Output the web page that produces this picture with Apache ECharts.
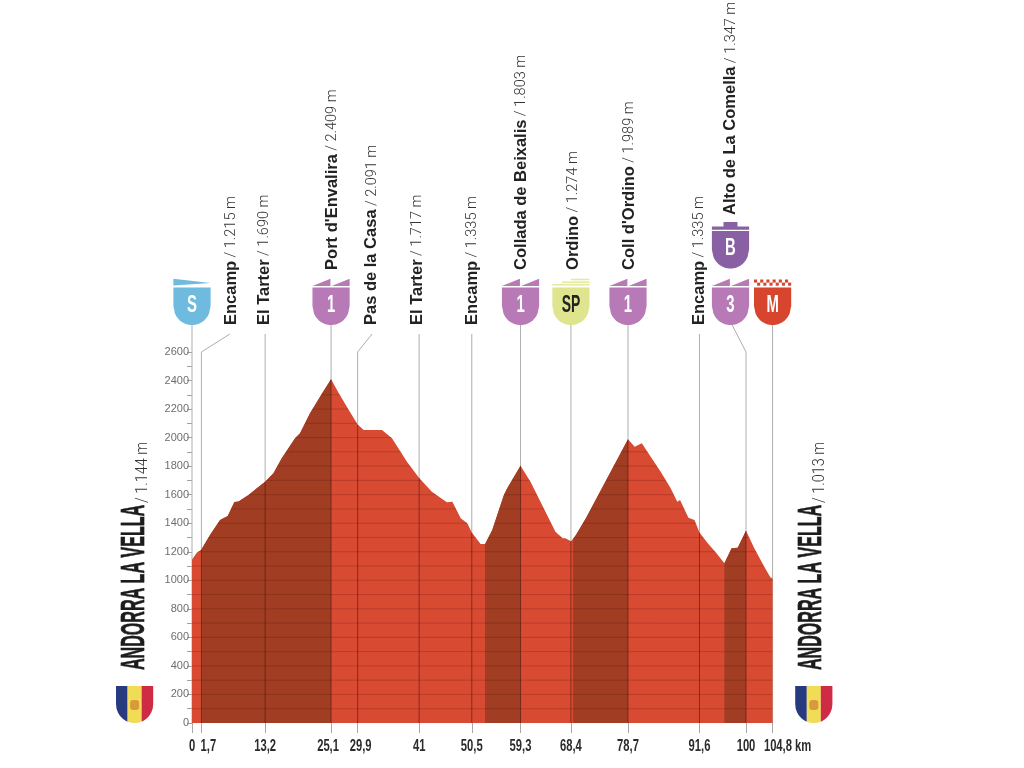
<!DOCTYPE html>
<html><head><meta charset="utf-8">
<style>html,body{margin:0;padding:0;background:#fff}#c{width:1024px;height:768px}</style>
<script src="https://cdn.jsdelivr.net/npm/echarts@6/dist/echarts.min.js"></script>
</head><body><div id="c"></div>
<script>
// ---- data ----
const profile = [[0,1144],[0.85,1193],[1.7,1215],[3.25,1317],[5.06,1423],[6.45,1450],[7.65,1549],[8.4,1553],[10.2,1597],[11.7,1645],[13.2,1690],[14.7,1750],[16.2,1855],[18.6,1995],[19.5,2030],[21.3,2170],[23.5,2310],[25.1,2409],[26.5,2310],[28.3,2193],[29.9,2091],[31,2053],[34.3,2053],[36.1,1995],[38.8,1831],[41,1717],[43.3,1621],[46,1547],[47,1551],[48.5,1434],[49.7,1399],[50.5,1335],[52.1,1254],[52.9,1254],[54.2,1352],[56.3,1598],[56.9,1645],[59.3,1803],[61.1,1691],[62.9,1551],[65.6,1341],[66.9,1294],[67.4,1294],[68.4,1274],[68.8,1291],[69.3,1317],[71.1,1434],[78.7,1989],[79.9,1936],[81.2,1960],[82.8,1866],[84.6,1761],[86.4,1645],[87.6,1551],[88.1,1563],[89.6,1439],[90.7,1423],[91.6,1335],[93.1,1259],[94.6,1193],[96.1,1119],[96.4,1130],[97.4,1224],[98.5,1228],[100,1347],[101.5,1224],[103.3,1095],[104.4,1021],[104.8,1013]];
const climbRanges = [[1.7,25.1],[52.9,59.3],[68.8,78.7],[96.1,100]];
const kmTicks = [0,1.7,13.2,25.1,29.9,41,50.5,59.3,68.4,78.7,91.6,100,104.8];
const kmLabels = ['0','1,7','13,2','25,1','29,9','41','50,5','59,3','68,4','78,7','91,6','100','104,8 km'];
const elevLabels = [0,200,400,600,800,1000,1200,1400,1600,1800,2000,2200,2400,2600];
const elevMinor = [0,100,200,300,400,500,600,700,800,900,1000,1100,1200,1300,1400,1500,1600,1700,1800,1900,2000,2100,2200,2300,2400,2500,2600];
const placeNames = ['Encamp','El Tarter',"Port d'Envalira",'Pas de la Casa','El Tarter','Encamp','Collada de Beixalis','Ordino',"Coll d'Ordino",'Encamp','Alto de La Comella'];
const placeHeights = ['1.215','1.690','2.409','2.091','1.717','1.335','1.803','1.274','1.989','1.335','1.347'];
const placeKm = [1.7,13.2,25.1,29.9,41,50.5,59.3,68.4,78.7,91.6,100];
const placeElev = [1215,1690,2409,2091,1717,1335,1803,1274,1989,1335,1347];
const badgeKinds = ['S','1','1','SP','1','3','B','M'];
const startName = 'ANDORRA LA VELLA', startHeight = '/ 1.144 m';
const finishName = 'ANDORRA LA VELLA', finishHeight = '/ 1.013 m';

// ---- layout ----
const yMax = 2800, gridBottom = 723, gridHeight = 0.1427 * yMax;
const LINE_TOP = 2726, PIN_TOP = 2789, BEND = 2600;
const labelKmAt = [6.85,12.85,25.05,32.2,40.4,50.4,59.25,68.65,78.7,91.4,97];
const labelFoot = [2789,2789,3175,2789,2789,2789,3175,3175,3175,2789,3560];
const leaderTop = {0:[6.85,LINE_TOP],3:[32.5,LINE_TOP],10:[97.5,PIN_TOP]};
const pinned = {2:1,6:1,7:1,8:1};
const badgeKm = [0,25.1,59.3,68.4,78.7,97.2,97.2,104.8];
const badgeTip = [2789,2789,2789,2789,2789,2789,3185,2789];
const tickDx = [0,7,0,-3,3,0,0,0,0,0,0,0,15];
const COLORS = {S:'#6fbbdf','1':'#b87ab6','3':'#b87ab6',SP:'#dfe58e',B:'#8a60a4',M:'#d8452e'};

// ---- derived series ----
function breakJoin(parts){ const out=[]; parts.forEach((p,i)=>{ if(i) out.push('-'); p.forEach(q=>out.push(q)); }); return out; }
function levelSegments(level){
  const segs=[]; let start=null;
  for(let i=0;i<profile.length-1;i++){
    const [a,b]=profile[i],[c,d]=profile[i+1];
    if(b>=level && start===null) start=a;
    if(b<level && d>=level) start=a+(level-b)/(d-b)*(c-a);
    if(b>=level && d<level){ segs.push([[start,level],[a+(level-b)/(d-b)*(c-a),level]]); start=null; }
  }
  if(start!==null) segs.push([[start,level],[profile[profile.length-1][0],level]]);
  return segs;
}
const gridParts=[]; elevMinor.slice(1).forEach(l=>levelSegments(l).forEach(s=>gridParts.push(s)));
const lowerParts = placeKm.map((k,i)=>[[k,0],[k,placeElev[i]]]);
const upperParts = placeKm.map((k,i)=>{
  const top = pinned[i]?PIN_TOP:LINE_TOP;
  if(leaderTop[i]) return [[k,placeElev[i]],[k,BEND],leaderTop[i]];
  return [[k,placeElev[i]],[k,top]];
});
upperParts.push([[0,0],[0,PIN_TOP]]);
upperParts.push([[104.8,0],[104.8,PIN_TOP]]);

const W=18.6, SH=19;
function shield(x0,x1,top){
  const pts=[[x0,top],[x1,top]]; const n=24;
  for(let i=0;i<=n;i++){ const x=x1+(x0-x1)*i/n; pts.push([x,-SH+SH*Math.sqrt(Math.max(0,1-(x/W)*(x/W)))]); }
  return pts;
}
const poly=(points,fill)=>({type:'polygon',shape:{points},style:{fill}});
const rect=(x,y,w,h,fill)=>({type:'rect',shape:{x,y,width:w,height:h},style:{fill}});
function badgeShape(kind){
  const c=COLORS[kind], out=[poly(shield(-W,W,-37.6),c)];
  if(kind==='S') out.push(poly([[-W,-46.3],[W,-42],[-W,-39.6]],c));
  if(kind==='1'||kind==='3'){
    out.push(poly([[-W,-39],[-0.6,-46.3],[-0.6,-39]],c));
    out.push(poly([[0.6,-39],[W,-46.3],[W,-39]],c));
  }
  if(kind==='SP'){
    out.push(rect(-W,-41,2*W,1.6,'#e6ea9f'));
    out.push(rect(-9,-43.6,W+9,1.6,'#e6ea9f'));
    out.push(rect(0,-46.3,W,1.6,'#e6ea9f'));
  }
  if(kind==='B'){
    out.push(rect(-W,-42,2*W,3.3,c));
    out.push(rect(-7,-46.5,14,5,c));
  }
  if(kind==='M'){
    for(let i=0;i<6;i++){
      out.push(rect(-W+i*6.2,-45.5,3.1,3.1,c));
      out.push(rect(-W+i*6.2+3.1,-42.4,3.1,3.1,c));
    }
  }
  out.push({type:'text',x:0,y:-20,scaleX:kind==='SP'?0.58:0.62,style:{text:kind,fontFamily:'"Liberation Sans"',fontWeight:'bold',fontSize:24,fill:kind==='SP'?'#222':'#fff',align:'center',verticalAlign:'middle'}});
  return out;
}

const option={
  animation:false,
  backgroundColor:'#fff',
  grid:{left:192,right:1024-(192+104.8*5.54),top:gridBottom-gridHeight,height:gridHeight,containLabel:false},
  xAxis:{type:'value',min:0,max:104.8,axisLine:{show:false},splitLine:{show:false},
    axisLabel:{show:false},
    axisTick:{show:true,length:10,customValues:kmTicks,lineStyle:{color:'#a8a8a8',width:1}}},
  yAxis:{type:'value',min:0,max:yMax,axisLine:{show:false},splitLine:{show:false},
    axisTick:{show:true,length:5,customValues:elevMinor,lineStyle:{color:'#a0a0a0',width:1}},
    axisLabel:{show:true,customValues:elevLabels,formatter:v=>String(v),color:'#6e6e6e',fontSize:11,margin:3,fontFamily:'"Liberation Sans"'}},
  series:[
    {type:'line',name:'Perfil',data:profile,showSymbol:false,lineStyle:{width:0},areaStyle:{color:'#d84a31',opacity:1},z:2,silent:true},
    ...climbRanges.map(([a,b],i)=>({type:'line',name:'Puerto '+(i+1),data:profile.filter(p=>p[0]>=a&&p[0]<=b),showSymbol:false,lineStyle:{width:0},areaStyle:{color:'#a03d23',opacity:1},z:3,silent:true})),
    {type:'line',name:'Rejilla',data:breakJoin(gridParts),showSymbol:false,connectNulls:false,lineStyle:{width:1,color:'rgba(75,15,5,0.22)'},z:4,silent:true},
    {type:'line',name:'Pases',data:breakJoin(lowerParts),showSymbol:false,connectNulls:false,lineStyle:{width:1,color:'rgba(70,20,15,0.55)'},z:5,silent:true},
    {type:'line',name:'Guias',data:breakJoin(upperParts),showSymbol:false,connectNulls:false,clip:false,lineStyle:{width:1,color:'#aeaeae'},z:1,silent:true},
    {type:'custom',name:'Lugares',coordinateSystem:'cartesian2d',z:6,silent:true,clip:false,
      data:placeNames.map((n,i)=>[labelKmAt[i],labelFoot[i]]),
      renderItem:(p,api)=>{
        const i=p.dataIndex, c=api.coord([api.value(0),api.value(1)]);
        return {type:'text',x:c[0]+1.5,y:c[1],rotation:Math.PI/2,style:{
          text:'{b|'+placeNames[i]+'} {l|/ '+placeHeights[i]+' m}',
          align:'left',verticalAlign:'middle',
          rich:{b:{fontFamily:'"Liberation Sans"',fontWeight:'bold',fontSize:16.5,fill:'#222'},
                l:{fontFamily:'Roboto',fontWeight:300,fontSize:14.5,fill:'#333'}}}};
      }},
    {type:'custom',name:'Insignias',coordinateSystem:'cartesian2d',z:7,silent:true,clip:false,
      data:badgeKinds.map((k,i)=>[badgeKm[i],badgeTip[i]]),
      renderItem:(p,api)=>{
        const c=api.coord([api.value(0),api.value(1)]);
        return {type:'group',x:c[0],y:c[1],children:badgeShape(badgeKinds[p.dataIndex])};
      }},
    {type:'custom',name:'Km',coordinateSystem:'cartesian2d',z:7,silent:true,clip:false,
      data:kmTicks.map(k=>[k,0]),
      renderItem:(p,api)=>{
        const i=p.dataIndex,c=api.coord([api.value(0),0]);
        return {type:'text',x:c[0]+tickDx[i],y:c[1]+23.5,scaleX:0.66,style:{text:kmLabels[i],fontFamily:'"Liberation Sans"',fontWeight:'bold',fontSize:17,fill:'#2b2b2b',align:'center',verticalAlign:'middle'}};
      }}
  ],
  graphic:[]
};

function endBlock(cx,name,height,baseX){
  const out=[];
  out.push({type:'text',x:baseX,y:670,rotation:Math.PI/2,scaleX:0.487,style:{text:name,fontFamily:'"Liberation Sans"',fontWeight:'bold',fontSize:33,fill:'#1c1c1c',stroke:'#1c1c1c',lineWidth:0.7,align:'left',verticalAlign:'middle'}});
  out.push({type:'text',x:baseX+8,y:503,rotation:Math.PI/2,scaleX:0.85,style:{text:height,fontFamily:'Roboto',fontWeight:300,fontSize:17,fill:'#333',align:'left',verticalAlign:'middle'}});
  out.push({type:'group',x:cx,y:723,children:[
    poly(shield(-W,-7,-37),'#27397f'),
    poly(shield(-7,7,-37),'#f0dc55'),
    poly(shield(7,W,-37),'#cf2b45'),
    {type:'rect',shape:{x:-4.5,y:-23,width:9,height:10,r:3},style:{fill:'#d79a3c'}}
  ]});
  return out;
}
option.graphic=[...endBlock(134.6,startName,startHeight,135),...endBlock(813.8,finishName,finishHeight,812)];
echarts.init(document.getElementById('c'),null,{renderer:'canvas'}).setOption(option);
</script></body></html>
